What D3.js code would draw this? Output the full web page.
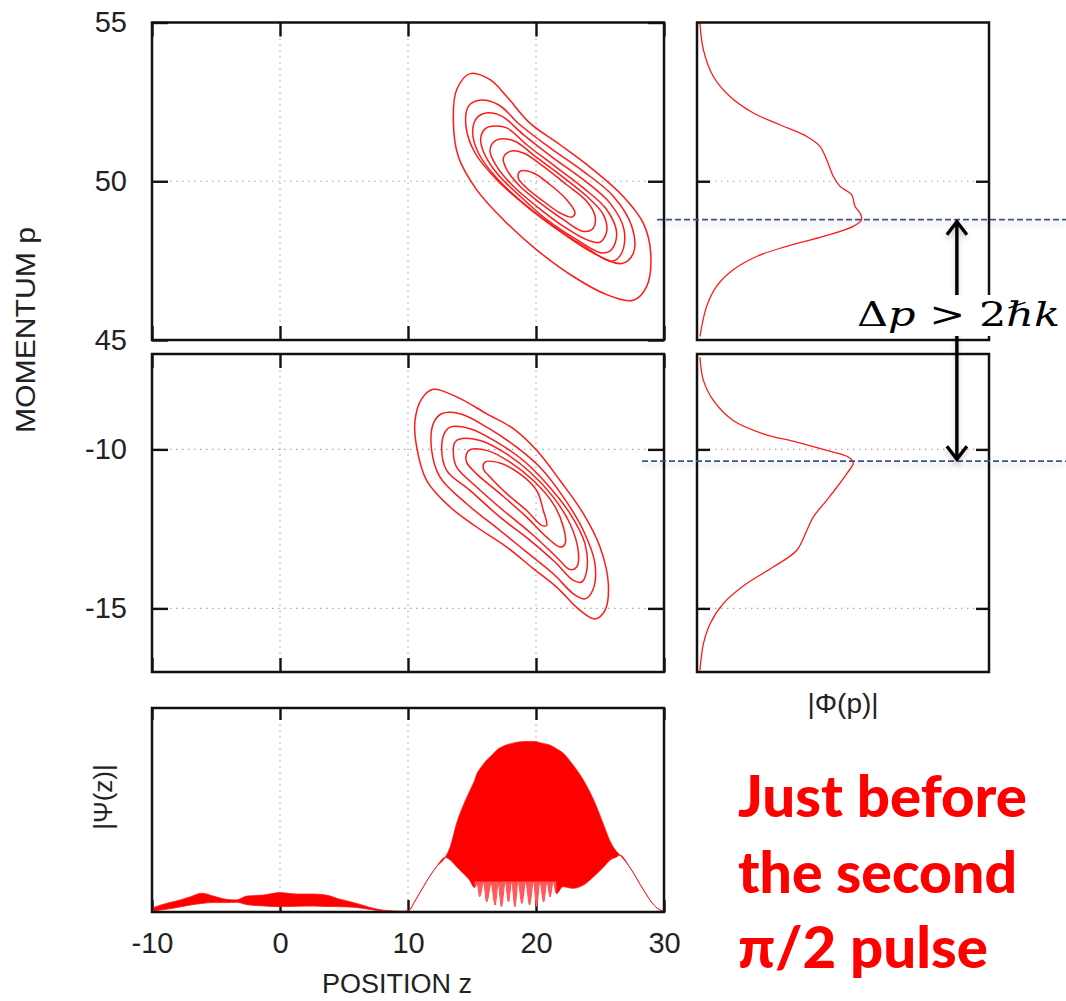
<!DOCTYPE html>
<html>
<head>
<meta charset="utf-8">
<script src="https://cdn.jsdelivr.net/npm/d3@7"></script>
<style>
  body { margin: 0; background: #fff; }
  svg { display: block; }
</style>
</head>
<body>
<div id="chart"></div>
<script>
// ---- values ----
const zTicks = [-10, 0, 10, 20, 30]
const zGrid = [0, 10, 20]
const pTicksTop = [45, 50, 55]
const pGridTop = [50]
const pTicksBottom = [-10, -15]

// contour rings of the Wigner function, [z, p] pairs (outer to inner)
const ringsTop = [
  [[14.85,53.39],[16.41,53.20],[17.71,52.67],[19.53,51.83],[21.88,51.15],[24.48,50.36],[26.82,49.52],[28.38,48.68],[28.96,47.74],[28.65,46.69],[27.6,46.25],[25.52,46.43],[22.91,47.0],[20.05,47.84],[17.45,48.79],[15.37,49.73],[13.93,50.78],[13.54,51.94],[13.80,52.88]],
  [[15.58,52.55],[17.06,52.41],[18.75,51.78],[21.10,51.05],[23.70,50.31],[26.04,49.53],[27.48,48.58],[27.61,47.74],[26.70,47.41],[24.48,47.74],[21.88,48.42],[19.27,49.21],[16.93,50.05],[15.24,50.89],[14.53,51.73],[14.72,52.36]],
  [[16.10,52.15],[17.32,52.05],[19.01,51.47],[21.36,50.73],[23.70,50.05],[25.78,49.31],[26.88,48.47],[26.70,47.74],[25.91,47.48],[23.96,47.90],[21.36,48.58],[19.01,49.31],[16.93,50.10],[15.50,50.89],[15.05,51.57],[15.37,51.99]],
  [[16.54,51.73],[17.71,51.68],[19.27,51.15],[21.49,50.47],[23.70,49.79],[25.52,49.11],[26.30,48.37],[25.91,47.85],[25.13,47.74],[23.18,48.16],[20.84,48.79],[18.75,49.53],[16.93,50.26],[15.89,50.94],[15.68,51.36],[16.02,51.65]],
  [[17.19,51.33],[18.36,51.26],[19.92,50.79],[22.01,50.16],[23.96,49.53],[25.26,48.95],[25.52,48.42],[25.0,48.08],[23.96,48.16],[22.14,48.58],[20.05,49.21],[18.23,49.84],[16.93,50.47],[16.41,50.94],[16.67,51.23]],
  [[17.97,50.94],[19.01,50.89],[20.57,50.47],[22.40,49.89],[23.96,49.37],[24.61,48.90],[24.48,48.53],[23.70,48.42],[22.14,48.79],[20.31,49.32],[18.75,49.84],[17.71,50.37],[17.45,50.73]],
  [[18.75,50.31],[19.79,50.26],[21.10,49.89],[22.40,49.42],[23.05,49.0],[22.79,48.87],[21.88,49.0],[20.57,49.37],[19.27,49.79],[18.62,50.10]]
]
const ringsBottom = [
  [[11.98,-8.11],[13.80,-8.35],[16.15,-8.88],[18.23,-9.35],[20.05,-10.03],[21.88,-10.98],[23.70,-12.02],[25.0,-13.07],[25.65,-14.22],[25.39,-15.06],[24.61,-15.33],[23.44,-15.06],[21.61,-14.33],[19.79,-13.75],[17.71,-13.07],[15.36,-12.44],[13.28,-11.81],[11.46,-10.98],[10.68,-9.93],[10.55,-9.09],[11.07,-8.41]],
  [[12.63,-8.88],[14.06,-8.88],[16.15,-9.30],[18.49,-9.93],[20.31,-10.56],[22.14,-11.50],[23.70,-12.55],[24.61,-13.60],[24.43,-14.43],[23.83,-14.70],[22.92,-14.54],[21.35,-13.91],[19.27,-13.23],[17.19,-12.55],[14.58,-11.71],[12.50,-10.87],[11.85,-10.03],[11.98,-9.19]],
  [[13.28,-9.30],[14.84,-9.35],[16.93,-9.77],[19.01,-10.35],[20.83,-11.08],[22.66,-12.02],[23.83,-12.97],[23.96,-13.81],[23.57,-14.17],[22.92,-14.12],[21.48,-13.54],[19.53,-12.86],[17.19,-12.13],[14.84,-11.29],[13.02,-10.66],[12.63,-9.93],[12.89,-9.46]],
  [[14.06,-9.67],[15.63,-9.72],[17.45,-10.08],[19.53,-10.71],[21.35,-11.50],[22.66,-12.34],[23.31,-13.23],[23.18,-13.70],[22.66,-13.78],[21.61,-13.39],[19.79,-12.70],[17.45,-11.92],[15.36,-11.18],[13.80,-10.56],[13.54,-10.08],[13.67,-9.77]],
  [[14.84,-10.01],[16.15,-10.03],[17.97,-10.40],[19.79,-10.98],[21.35,-11.71],[22.14,-12.44],[22.27,-12.97],[21.88,-13.07],[20.83,-12.76],[19.27,-12.13],[17.19,-11.39],[15.36,-10.77],[14.58,-10.40],[14.58,-10.14]],
  [[16.02,-10.40],[17.19,-10.43],[18.75,-10.77],[20.05,-11.29],[20.57,-11.92],[20.83,-12.39],[20.44,-12.39],[19.27,-11.92],[17.71,-11.39],[16.41,-10.87],[15.89,-10.61]]
]

// momentum distributions |Phi(p)|
const phiTopP = [54.98,54.14,53.30,52.67,52.15,51.78,51.41,51.10,50.68,50.15,49.84,49.57,49.21,49.0,48.79,48.58,48.26,47.95,47.63,47.21,46.69,46.06,45.11]
const phiTopV = [0.010,0.022,0.056,0.113,0.193,0.284,0.376,0.421,0.444,0.467,0.490,0.530,0.541,0.558,0.564,0.535,0.433,0.307,0.204,0.124,0.067,0.033,0.010]
const phiBottomP = [-7.10,-7.83,-8.46,-9.09,-9.51,-9.77,-10.03,-10.24,-10.42,-10.76,-11.19,-11.60,-12.13,-12.55,-13.18,-13.70,-14.22,-14.85,-15.48,-16.11,-16.95]
const phiBottomV = [0.010,0.022,0.056,0.124,0.227,0.341,0.444,0.518,0.535,0.513,0.479,0.444,0.398,0.376,0.341,0.261,0.170,0.090,0.045,0.022,0.010]

// |Psi(z)|: upper and lower envelope of the fast fringes
const psiZ = [-10.0,-8.9,-7.8,-7.0,-6.1,-5.2,-4.2,-3.4,-2.6,-1.3,0.0,1.3,2.6,3.6,4.7,6.0,7.3,8.3,9.6,10.0,10.6,11.2,12.2,12.9,13.3,13.8,14.3,14.8,15.2,15.4,15.6,15.9,16.15,16.5,16.8,17.05,17.3,17.6,17.85,18.1,18.35,18.6,18.9,19.2,19.5,19.8,20.05,20.3,20.6,20.85,21.1,21.35,21.6,22.1,22.9,23.7,24.5,25.3,25.8,26.3,26.56,27.3,28.4,29.2,29.8,30.0]
const psiUpper = [0.020,0.042,0.059,0.075,0.092,0.078,0.062,0.059,0.078,0.083,0.095,0.088,0.088,0.083,0.062,0.042,0.018,0.007,0.004,0.006,0.060,0.124,0.220,0.267,0.320,0.435,0.520,0.590,0.645,0.680,0.700,0.725,0.745,0.765,0.785,0.800,0.808,0.817,0.822,0.826,0.830,0.833,0.835,0.836,0.836,0.836,0.835,0.830,0.826,0.822,0.818,0.810,0.800,0.780,0.720,0.647,0.550,0.425,0.345,0.296,0.279,0.222,0.108,0.035,0.007,0.005]
const psiLower = [0.005,0.013,0.025,0.034,0.042,0.046,0.046,0.048,0.036,0.030,0.026,0.028,0.029,0.027,0.026,0.022,0.010,0.003,0.002,0.004,0.060,0.124,0.220,0.267,0.255,0.222,0.190,0.157,0.120,0.140,0.075,0.145,0.050,0.140,0.034,0.140,0.026,0.150,0.050,0.150,0.026,0.150,0.042,0.150,0.034,0.150,0.026,0.150,0.050,0.150,0.075,0.150,0.090,0.124,0.116,0.132,0.173,0.222,0.255,0.270,0.279,0.222,0.108,0.035,0.007,0.005]
// the deep fringes below this level look paler in the picture
const fringeZ = [15.2, 21.6]
const fringeTop = 0.15

// annotation: momentum of the two peaks and arrow position on the |Phi| axis
const peakP = [48.79, -10.37]
const arrowAmp = 0.89

// ---- layout ----
const W = 1066, H = 1001
const L = {x0: 152, x1: 664}
const R = {x0: 697, x1: 989}
const TOP = {y0: 22.5, y1: 340}
const MID = {y0: 354, y1: 672}
const BOT = {y0: 708, y1: 912}

const xZ = d3.scaleLinear().domain([-10, 30]).range([L.x0, L.x1])
const yTop = d3.scaleLinear().domain([45, 55]).range([TOP.y1, TOP.y0])
const yMid = d3.scaleLinear().domain([-17, -7]).range([MID.y1, MID.y0])
const xPhi = d3.scaleLinear().domain([0, 1]).range([R.x0, R.x1])
const yPsi = d3.scaleLinear().domain([0, 1]).range([BOT.y1, BOT.y0])

const RED = '#ff1a1a'
const FONT = '"Liberation Sans", Arial, sans-serif'
const TEXT = '#222'

const svg = d3.select('#chart').append('svg')
    .attr('width', W).attr('height', H)

const defs = svg.append('defs')
const sh = defs.append('filter').attr('id', 'shadow').attr('filterUnits', 'userSpaceOnUse')
    .attr('x', 0).attr('y', 0).attr('width', W).attr('height', H)
sh.append('feDropShadow').attr('dx', 0).attr('dy', 4).attr('stdDeviation', 2.5)
    .attr('flood-color', '#000').attr('flood-opacity', 0.2)

function grid(g, xs, ys, xVals, yVals) {
    g.selectAll('.vg').data(xVals).enter().append('line')
        .attr('x1', d => xs(d)).attr('x2', d => xs(d))
        .attr('y1', ys.range()[0]).attr('y2', ys.range()[1])
        .attr('stroke', '#a8a8a8').attr('stroke-width', 1.2).attr('stroke-dasharray', '1.5,4.5')
    g.selectAll('.hg').data(yVals).enter().append('line')
        .attr('x1', xs.range()[0]).attr('x2', xs.range()[1])
        .attr('y1', d => ys(d)).attr('y2', d => ys(d))
        .attr('stroke', '#a8a8a8').attr('stroke-width', 1.2).attr('stroke-dasharray', '1.5,4.5')
}

// inward mirrored ticks, gnuplot style
function ticks(g, xs, ys, xVals, yVals, xLen, yLen, opts) {
    const [xa, xb] = xs.range()
    const [ya, yb] = ys.range()   // ya bottom, yb top
    const label = d => String(d)
    if (xVals) {
        const bottom = g.append('g').attr('transform', `translate(0,${ya})`)
            .call(d3.axisBottom(xs).tickValues(xVals).tickSize(-xLen).tickPadding(20)
                .tickFormat(opts.xLabels ? label : ''))
        const top = g.append('g').attr('transform', `translate(0,${yb})`)
            .call(d3.axisTop(xs).tickValues(xVals).tickSize(-xLen).tickFormat(''))
        ;[bottom, top].forEach(a => a.select('.domain').remove())
    }
    if (yVals) {
        const left = g.append('g').attr('transform', `translate(${xa},0)`)
            .call(d3.axisLeft(ys).tickValues(yVals).tickSize(-yLen).tickPadding(25)
                .tickFormat(opts.yLabels ? label : ''))
        const right = g.append('g').attr('transform', `translate(${xb},0)`)
            .call(d3.axisRight(ys).tickValues(yVals).tickSize(-yLen).tickFormat(''))
        ;[left, right].forEach(a => a.select('.domain').remove())
    }
    g.selectAll('.tick line').attr('stroke', '#111').attr('stroke-width', 2.4)
    g.selectAll('.tick text').attr('font-family', FONT).attr('font-size', 29).attr('fill', TEXT)
}

function frame(g, xs, ys) {
    const [xa, xb] = xs.range()
    const [ya, yb] = ys.range()
    g.append('rect').attr('x', xa).attr('y', yb).attr('width', xb - xa).attr('height', ya - yb)
        .attr('fill', 'none').attr('stroke', '#111').attr('stroke-width', 2.5)
}

// ---- phase space panels ----
const ringLine = (ys) => d3.line()
    .x(d => xZ(d[0])).y(d => ys(d[1]))
    .curve(d3.curveCatmullRomClosed.alpha(0.5))

const gTop = svg.append('g')
grid(gTop, xZ, yTop, zGrid, pGridTop)
ticks(gTop, xZ, yTop, zTicks, pTicksTop, 14, 16, {yLabels: true})
gTop.selectAll('path.ring').data(ringsTop).enter().append('path')
    .attr('class', 'ring').attr('d', ringLine(yTop))
    .attr('fill', 'none').attr('stroke', RED).attr('stroke-width', 1.5)
frame(gTop, xZ, yTop)

const gMid = svg.append('g')
grid(gMid, xZ, yMid, zGrid, pTicksBottom)
ticks(gMid, xZ, yMid, zTicks, pTicksBottom, 14, 16, {yLabels: true})
gMid.selectAll('path.ring').data(ringsBottom).enter().append('path')
    .attr('class', 'ring').attr('d', ringLine(yMid))
    .attr('fill', 'none').attr('stroke', RED).attr('stroke-width', 1.5)
frame(gMid, xZ, yMid)

// ---- momentum distributions ----
const phiLine = (ys) => d3.line()
    .x(d => xPhi(d[1])).y(d => ys(d[0]))
    .curve(d3.curveCatmullRom)

const gPT = svg.append('g')
grid(gPT, xPhi, yTop, [], pGridTop)
ticks(gPT, xPhi, yTop, null, pGridTop, 0, 13, {})
gPT.append('path').datum(d3.zip(phiTopP, phiTopV))
    .attr('d', phiLine(yTop)).attr('fill', 'none').attr('stroke', RED).attr('stroke-width', 1.3)
frame(gPT, xPhi, yTop)

const gPB = svg.append('g')
grid(gPB, xPhi, yMid, [], pTicksBottom)
ticks(gPB, xPhi, yMid, null, pTicksBottom, 0, 13, {})
gPB.append('path').datum(d3.zip(phiBottomP, phiBottomV))
    .attr('d', phiLine(yMid)).attr('fill', 'none').attr('stroke', RED).attr('stroke-width', 1.3)
frame(gPB, xPhi, yMid)

// ---- position distribution ----
const gPsi = svg.append('g')
grid(gPsi, xZ, yPsi, zGrid, [])
ticks(gPsi, xZ, yPsi, zTicks, null, 12, 0, {xLabels: true})
const psiData = psiZ.map((z, i) => ({z: z, hi: psiUpper[i], lo: psiLower[i]}))
const psiArea = d3.area().x(d => xZ(d.z)).y0(d => yPsi(d.lo)).y1(d => yPsi(d.hi)).curve(d3.curveMonotoneX)
gPsi.append('path').datum(psiData)
    .attr('d', psiArea)
    .attr('fill', '#ff0000').attr('stroke', RED).attr('stroke-width', 0.8)
// paler fringe teeth
const fringeData = psiData.filter(d => d.z >= fringeZ[0] && d.z <= fringeZ[1])
    .map(d => ({z: d.z, hi: fringeTop, lo: Math.min(d.lo, fringeTop)}))
gPsi.append('path').datum(fringeData)
    .attr('d', psiArea)
    .attr('fill', '#fff').attr('opacity', 0.35)
frame(gPsi, xZ, yPsi)

// ---- axis titles ----
svg.append('text').text('MOMENTUM p')
    .attr('transform', `translate(35,330) rotate(-90)`)
    .attr('text-anchor', 'middle').attr('font-family', FONT).attr('font-size', 28)
    .attr('textLength', 206).attr('lengthAdjust', 'spacingAndGlyphs').attr('fill', TEXT)
svg.append('text').text('POSITION z')
    .attr('x', 397).attr('y', 993)
    .attr('text-anchor', 'middle').attr('font-family', FONT).attr('font-size', 27).attr('fill', TEXT)
svg.append('text').text('|Ψ(z)|')
    .attr('transform', `translate(112,797) rotate(-90)`)
    .attr('text-anchor', 'middle').attr('font-family', FONT).attr('font-size', 26).attr('fill', TEXT)
svg.append('text').text('|Φ(p)|')
    .attr('x', (R.x0 + R.x1) / 2).attr('y', 713)
    .attr('text-anchor', 'middle').attr('font-family', FONT).attr('font-size', 28).attr('fill', TEXT)

// ---- annotations ----
const ann = svg.append('g')
const blueStart = [657, 642]
;[yTop(peakP[0]), yMid(peakP[1])].forEach((y, i) => {
    ann.append('line').attr('x1', blueStart[i]).attr('x2', W).attr('y1', y).attr('y2', y)
        .attr('stroke', '#3c5290').attr('stroke-width', 1.7).attr('stroke-dasharray', '6,3')
        .attr('filter', 'url(#shadow)')
})

const ax = xPhi(arrowAmp)
const yA = yTop(peakP[0]), yB = yMid(peakP[1])
const arrow = ann.append('g').attr('filter', 'url(#shadow)')
arrow.append('line').attr('x1', ax).attr('x2', ax).attr('y1', yA + 1).attr('y2', yB - 1)
    .attr('stroke', '#000').attr('stroke-width', 3.4)
arrow.append('path').attr('d', `M${ax - 10},${yA + 15}L${ax},${yA + 2}L${ax + 10},${yA + 15}`)
    .attr('fill', 'none').attr('stroke', '#000').attr('stroke-width', 3.4)
arrow.append('path').attr('d', `M${ax - 10},${yB - 15}L${ax},${yB - 2}L${ax + 10},${yB - 15}`)
    .attr('fill', 'none').attr('stroke', '#000').attr('stroke-width', 3.4)

ann.append('rect').attr('x', 852).attr('y', 295).attr('width', W - 852).attr('height', 41).attr('fill', '#fff')
const dp = ann.append('text').attr('x', 857).attr('y', 326)
    .attr('font-family', '"DejaVu Serif", "Liberation Serif", serif').attr('font-size', 34).attr('fill', '#000')
    .attr('textLength', 203).attr('lengthAdjust', 'spacingAndGlyphs')
dp.append('tspan').text('Δ')
dp.append('tspan').text('p').attr('font-style', 'italic')
dp.append('tspan').text(' > 2')
dp.append('tspan').text('ℏk').attr('font-style', 'italic')

// ---- slide caption ----
const caption = ['Just before', 'the second', 'π/2 pulse']
const capWidth = [289, 279, 250]
const capBase = [817, 893, 968]
svg.append('g').selectAll('text').data(caption).enter().append('text')
    .text(d => d)
    .attr('x', 738).attr('y', (d, i) => capBase[i])
    .attr('textLength', (d, i) => capWidth[i]).attr('lengthAdjust', 'spacingAndGlyphs')
    .attr('font-family', 'Lato, "Open Sans", sans-serif').attr('font-weight', 900)
    .attr('font-size', 57).attr('fill', '#ff0000')
</script>
</body>
</html>
